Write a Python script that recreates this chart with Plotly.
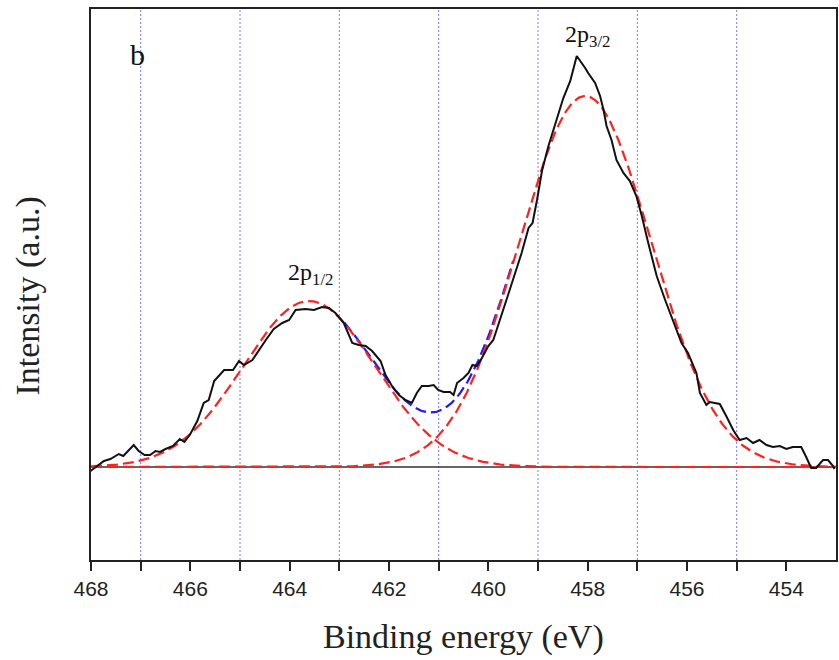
import numpy as np
import plotly.graph_objects as go

# Measured spectrum (binding energy in eV, intensity in a.u.)
energy = [468.01, 467.87, 467.74, 467.61, 467.44, 467.35, 467.24, 467.14, 467.04, 466.92,
          466.81, 466.70, 466.61, 466.50, 466.35, 466.21, 466.12, 466.00, 465.86, 465.73,
          465.63, 465.52, 465.32, 465.14, 465.02, 464.92, 464.75, 464.62, 464.48, 464.32,
          464.15, 464.01, 463.88, 463.68, 463.51, 463.35, 463.21, 463.08, 462.91, 462.74,
          462.61, 462.47, 462.34, 462.17, 462.07, 462.01, 461.94, 461.80, 461.67, 461.54,
          461.44, 461.34, 461.20, 461.10, 461.01, 460.90, 460.77, 460.70, 460.63, 460.50,
          460.40, 460.32, 460.23, 460.13, 460.00, 459.90, 459.80, 459.69, 459.59, 459.46,
          459.33, 459.19, 459.11, 459.02, 458.92, 458.79, 458.62, 458.49, 458.35, 458.22,
          458.05, 457.99, 457.85, 457.75, 457.68, 457.62, 457.52, 457.42, 457.28, 457.15,
          457.02, 456.91, 456.78, 456.61, 456.44, 456.27, 456.11, 455.98, 455.81, 455.74,
          455.61, 455.54, 455.34, 455.21, 455.07, 454.94, 454.80, 454.67, 454.54, 454.40,
          454.27, 454.13, 454.00, 453.87, 453.70, 453.60, 453.50, 453.40, 453.26, 453.16,
          453.06, 453.03]
intensity = [-0.04, 0.01, 0.06, 0.08, 0.13, 0.11, 0.17, 0.22, 0.16, 0.12,
             0.12, 0.16, 0.15, 0.18, 0.21, 0.28, 0.25, 0.33, 0.46, 0.64,
             0.67, 0.86, 0.97, 0.97, 1.06, 1.02, 1.07, 1.17, 1.27, 1.38,
             1.44, 1.47, 1.57, 1.58, 1.57, 1.60, 1.59, 1.54, 1.44, 1.24,
             1.22, 1.21, 1.16, 1.06, 0.92, 0.87, 0.81, 0.72, 0.67, 0.64,
             0.74, 0.81, 0.81, 0.82, 0.77, 0.75, 0.75, 0.72, 0.84, 0.89,
             0.94, 1.02, 1.01, 1.09, 1.21, 1.27, 1.42, 1.57, 1.74, 1.94,
             2.14, 2.39, 2.44, 2.67, 2.96, 3.21, 3.49, 3.69, 3.86, 4.11,
             3.99, 3.94, 3.84, 3.71, 3.57, 3.41, 3.27, 3.07, 2.94, 2.86,
             2.71, 2.51, 2.24, 1.91, 1.67, 1.44, 1.24, 1.14, 0.94, 0.74,
             0.62, 0.65, 0.63, 0.51, 0.37, 0.27, 0.29, 0.24, 0.27, 0.22,
             0.20, 0.21, 0.18, 0.20, 0.20, 0.10, -0.01, -0.01, 0.07, 0.07,
             0.01, -0.02]

# Fitted Gaussian components
peak_names = ["2p1/2", "2p3/2"]
peak_centers = [463.61, 458.05]
peak_heights = [1.66, 3.71]
peak_sigmas = [1.33, 1.33]

# Axis ticks (labelled) and dotted grid positions
tick_vals = [468, 466, 464, 462, 460, 458, 456, 454]
tick_text = ["468", "466", "464", "462", "460", "458", "456", "454"]
grid_vals = [467, 465, 463, 461, 459, 457, 455]

e_fit = np.linspace(468, 453, 601)
components = [h * np.exp(-(e_fit - c) ** 2 / (2 * s ** 2))
              for c, h, s in zip(peak_centers, peak_heights, peak_sigmas)]
envelope = components[0] + components[1]
env_mask = (e_fit <= 462.9) & (e_fit >= 459.5)

fig = go.Figure()

# dotted vertical grid lines
for g in grid_vals:
    fig.add_trace(go.Scatter(x=[g, g], y=[-0.93, 4.58], mode="lines",
                             line=dict(color="#7a7aff", width=1, dash="2px,2px"),
                             showlegend=False, hoverinfo="skip"))
# baseline
fig.add_trace(go.Scatter(x=[468, 453], y=[0, 0], mode="lines",
                         line=dict(color="#333333", width=1.5), showlegend=False))
# envelope (blue dashed)
fig.add_trace(go.Scatter(x=e_fit[env_mask], y=envelope[env_mask], mode="lines",
                         line=dict(color="#1a1aff", width=2.2, dash="11px,5px"),
                         showlegend=False))
# components (red dashed)
for comp in components:
    fig.add_trace(go.Scatter(x=e_fit, y=comp, mode="lines",
                             line=dict(color="#ff2020", width=2.2, dash="11px,5px"),
                             showlegend=False))
# measured
fig.add_trace(go.Scatter(x=energy, y=intensity, mode="lines",
                         line=dict(color="#111111", width=2), showlegend=False))

serif = "Liberation Serif, Times New Roman, serif"

fig.update_layout(
    width=839, height=660,
    margin=dict(l=91, r=1, t=9, b=100),
    paper_bgcolor="white", plot_bgcolor="white",
    xaxis=dict(
        range=[468, 453], showline=True, linecolor="#222222", linewidth=2, mirror=True,
        ticks="outside", ticklen=9, tickwidth=1.5, tickcolor="#222222",
        tickvals=tick_vals, ticktext=tick_text,
        tickfont=dict(family="Liberation Sans, Arial, sans-serif", size=21, color="#222222"),
        showgrid=False, zeroline=False,
        minor=dict(tickvals=grid_vals, ticks="outside", ticklen=9, tickwidth=1.5,
                   tickcolor="#222222", showgrid=False),
    ),
    yaxis=dict(
        range=[-0.93, 4.58], showline=True, linecolor="#222222", linewidth=2, mirror=True,
        showticklabels=False, ticks="", showgrid=False, zeroline=False,
    ),
    annotations=[
        dict(text="Binding energy (eV)", xref="paper", yref="paper", x=0.5, y=-0.14,
             xanchor="center", yanchor="middle", showarrow=False,
             font=dict(family=serif, size=34, color="#222222")),
        dict(text="Intensity (a.u.)", xref="paper", yref="paper", x=-0.084, y=0.479,
             xanchor="center", yanchor="middle", showarrow=False, textangle=-90,
             font=dict(family=serif, size=34, color="#222222")),
        dict(text="b", xref="x", yref="paper", x=467.07, y=0.918,
             xanchor="center", yanchor="middle", showarrow=False,
             font=dict(family=serif, size=30, color="#111111")),
        dict(text="2p<sub>1/2</sub>", xref="x", yref="y", x=463.59, y=1.93,
             xanchor="center", yanchor="middle", showarrow=False,
             font=dict(family=serif, size=24, color="#111111")),
        dict(text="2p<sub>3/2</sub>", xref="x", yref="y", x=458.0, y=4.31,
             xanchor="center", yanchor="middle", showarrow=False,
             font=dict(family=serif, size=24, color="#111111")),
    ],
)

fig.write_html("out.html", config={"displayModeBar": False},
               post_script="document.body.style.margin='0';document.body.style.overflow='hidden';")
